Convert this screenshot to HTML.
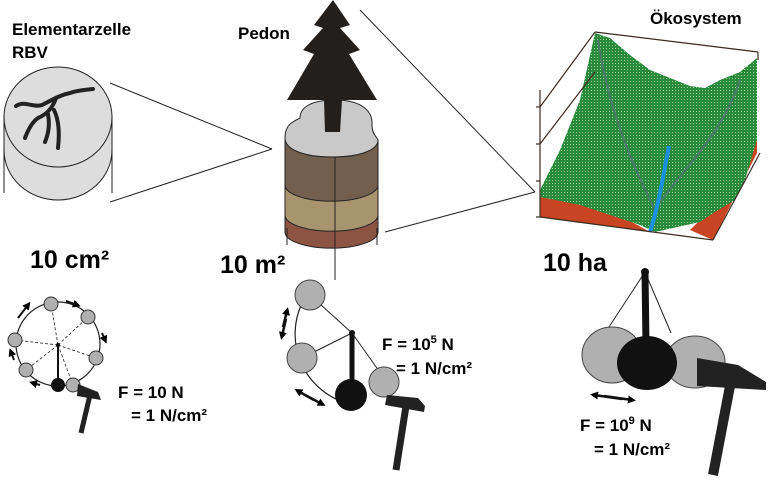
<!DOCTYPE html>
<html><head><meta charset="utf-8"><style>
body{margin:0;background:#fff}
svg{display:block}
text{font-family:"Liberation Sans",Arial,sans-serif;font-weight:bold;fill:#000}
</style></head><body>
<svg width="776" height="484" viewBox="0 0 776 484" xmlns="http://www.w3.org/2000/svg">
<defs>
<pattern id="mesh" width="3" height="3" patternUnits="userSpaceOnUse">
<rect width="3" height="3" fill="#2a8a3c"/><rect width="1" height="1" fill="#9fd0a4"/>
</pattern>
<marker id="ah" markerUnits="userSpaceOnUse" markerWidth="8" markerHeight="8" refX="4" refY="4" orient="auto"><path d="M0,0 L8,4 L0,8z" fill="#000"/></marker>
</defs>
<!-- Labels -->
<text x="12" y="35" font-size="17">Elementarzelle</text>
<text x="12" y="58" font-size="17">RBV</text>
<text x="238" y="39" font-size="17">Pedon</text>
<text x="650" y="24" font-size="17">Ökosystem</text>
<text x="30" y="268" font-size="25">10 cm²</text>
<text x="220" y="273" font-size="25">10 m²</text>
<text x="543" y="271" font-size="25">10 ha</text>

<!-- Left cylinder -->
<path d="M4,117 L4,150 A54,50 0 0 0 112,150 L112,117 Z" fill="#ddd" stroke="#222" stroke-width="1"/>
<ellipse cx="58" cy="117" rx="54" ry="50" fill="#ddd" stroke="#222" stroke-width="1"/>
<line x1="4" y1="115" x2="4" y2="193" stroke="#222"/>
<line x1="112" y1="115" x2="112" y2="193" stroke="#222"/>
<path d="M16,106 C25,100 32,108 42,105 C52,100 60,95 70,93 C78,90 85,90 93,89" fill="none" stroke="#222" stroke-width="4" stroke-linecap="round"/>
<path d="M56,98 C52,110 45,115 38,118 C32,122 28,130 25,138" fill="none" stroke="#222" stroke-width="4" stroke-linecap="round"/>
<path d="M48,114 C50,125 48,135 45,142" fill="none" stroke="#222" stroke-width="4" stroke-linecap="round"/>
<path d="M54,110 C58,118 60,130 58,148" fill="none" stroke="#222" stroke-width="4" stroke-linecap="round"/>
<line x1="110" y1="83" x2="272" y2="149" stroke="#222"/>
<line x1="110" y1="202" x2="272" y2="149" stroke="#222"/>

<!-- Pedon -->
<path d="M285,215 L285,232 A46,16 0 0 0 378,232 L378,215 Z" fill="#8c5442" stroke="#222"/>
<path d="M285,185 L285,215 A46,16 0 0 0 378,215 L378,185 Z" fill="#a99470" stroke="#222"/>
<path d="M285,140 L285,185 A46,16 0 0 0 378,185 L378,140 Z" fill="#735f4e" stroke="#222"/>
<path d="M285,138 C285,125 292,122 300,118 C300,108 310,100 335,100 C360,100 373,110 372,125 C372,135 378,138 378,140 C378,150 360,157 332,157 C305,157 285,150 285,138 Z" fill="#c9c9c9" stroke="#222"/>
<line x1="335" y1="157" x2="335" y2="280" stroke="#222"/>
<line x1="287" y1="228" x2="287" y2="245" stroke="#222"/>
<line x1="377" y1="228" x2="377" y2="245" stroke="#222"/>
<path d="M333,0 L350,25 L340,28 L360,50 L349,54 L377,100 L342,100 L340,132 L325,132 L324,100 L287,100 L314,54 L303,50 L323,28 L314,25 Z" fill="#231f1c"/>
<line x1="360" y1="10" x2="535" y2="192" stroke="#222"/>
<line x1="385" y1="232" x2="535" y2="192" stroke="#222"/>

<!-- Ecosystem -->
<polygon points="540,197 575,200 610,210 650,232 540,217" fill="#c94422"/>
<polygon points="757,60 757,153 713,240 690,230 740,180 750,140" fill="#c94422"/>
<polygon points="595,33 610,38 630,55 650,70 670,78 690,86 705,88 720,80 740,72 757,58 757,140 745,180 735,200 715,212 700,222 655,232 640,225 610,215 580,205 540,197 540,190 560,150 580,100" fill="url(#mesh)"/>
<path d="M598,40 C610,120 640,180 655,210 C680,170 720,140 740,80" fill="none" stroke="#4a7a6a" stroke-width="2"/>
<path d="M669,146 C664,170 660,200 650,232" fill="none" stroke="#1a90e0" stroke-width="4"/>
<g stroke="#3a2a22" stroke-width="1.2" fill="none">
<line x1="595" y1="32" x2="758" y2="52"/>
<line x1="758" y1="52" x2="758" y2="60"/>
<line x1="595" y1="32" x2="540" y2="107"/>
<line x1="540" y1="90" x2="540" y2="217"/>
<line x1="540" y1="217" x2="713" y2="240"/>
<line x1="713" y1="240" x2="760" y2="153"/>
<line x1="536" y1="107" x2="540" y2="107"/><line x1="536" y1="144" x2="540" y2="144"/><line x1="536" y1="181" x2="540" y2="181"/><line x1="536" y1="217" x2="540" y2="217"/>
<line x1="540" y1="144" x2="595" y2="72"/>
</g>

<!-- Bottom left pendulum wheel -->
<circle cx="58" cy="344" r="42" fill="none" stroke="#222" stroke-width="1.2"/>
<g stroke="#222" stroke-width="0.8" stroke-dasharray="3,2">
<line x1="58" y1="345" x2="51" y2="304"/><line x1="58" y1="345" x2="88" y2="317"/><line x1="58" y1="345" x2="96" y2="358"/>
<line x1="58" y1="345" x2="15" y2="340"/><line x1="58" y1="345" x2="26" y2="370"/><line x1="58" y1="345" x2="73" y2="385"/>
</g>
<line x1="58" y1="345" x2="58" y2="383" stroke="#111" stroke-width="2"/>
<circle cx="58" cy="345" r="2" fill="#111"/>
<g fill="#b0b0b0" stroke="#333">
<circle cx="51" cy="304" r="7"/><circle cx="88" cy="317" r="7"/><circle cx="96" cy="358" r="7"/>
<circle cx="15" cy="340" r="7"/><circle cx="26" cy="370" r="7"/><circle cx="73" cy="385" r="7"/>
</g>
<circle cx="58" cy="385" r="7" fill="#111"/>
<g stroke="#111" stroke-width="2" fill="none">
<path d="M18,318 L28,305" marker-end="url(#ah)"/>
<path d="M66,301 L77,305" marker-end="url(#ah)"/>
<path d="M102,333 L105,340" marker-end="url(#ah)"/>
<path d="M40,385 L33,383" marker-end="url(#ah)"/>
<path d="M14,360 L11,352" marker-end="url(#ah)"/>
</g>
<polygon points="78,384 98,392 101,400 77,396" fill="#222"/>
<line x1="90" y1="395" x2="81" y2="433" stroke="#222" stroke-width="5"/>
<text x="118" y="398" font-size="17">F = 10 N</text>
<text x="131" y="421" font-size="17">= 1 N/cm²</text>

<!-- Middle pendulum -->
<path d="M306,296 A72,72 0 0 0 350,404" fill="none" stroke="#222" stroke-width="1.2"/>
<g stroke="#222" stroke-width="1">
<line x1="352" y1="333" x2="310" y2="295"/><line x1="352" y1="333" x2="302" y2="358"/><line x1="352" y1="333" x2="384" y2="378"/>
</g>
<line x1="352" y1="333" x2="352" y2="395" stroke="#111" stroke-width="5"/>
<circle cx="352" cy="333" r="3" fill="#111"/>
<g fill="#b0b0b0" stroke="#444">
<circle cx="310" cy="295" r="15"/><circle cx="302" cy="358" r="15"/><circle cx="384" cy="382" r="15"/>
</g>
<circle cx="351" cy="395" r="16" fill="#111"/>
<g stroke="#111" stroke-width="2.5" fill="none">
<line x1="283" y1="327" x2="287" y2="311" marker-end="url(#ah)"/>
<line x1="286" y1="319" x2="282" y2="336" marker-end="url(#ah)"/>
<line x1="305" y1="395" x2="322" y2="404" marker-end="url(#ah)"/>
<line x1="314" y1="400" x2="298" y2="391" marker-end="url(#ah)"/>
</g>
<polygon points="387,395 418,398 425,406 424,412 385,405" fill="#222"/>
<line x1="406" y1="406" x2="396" y2="470" stroke="#222" stroke-width="7"/>
<text x="382" y="350" font-size="17">F = 10<tspan font-size="11" dy="-7">5</tspan><tspan dy="7"> N</tspan></text>
<text x="396" y="374" font-size="17">= 1 N/cm²</text>

<!-- Right pendulum -->
<line x1="645" y1="272" x2="607" y2="330" stroke="#222"/>
<line x1="645" y1="272" x2="671" y2="333" stroke="#222"/>
<ellipse cx="612" cy="355" rx="30" ry="28" fill="#b0b0b0" stroke="#444"/>
<ellipse cx="695" cy="362" rx="30" ry="26" fill="#b0b0b0" stroke="#444"/>
<line x1="645" y1="272" x2="646" y2="345" stroke="#111" stroke-width="7"/>
<circle cx="645" cy="272" r="4" fill="#111"/>
<ellipse cx="647" cy="363" rx="30" ry="27" fill="#111"/>
<polygon points="697,358 738,365 766,382 766,390 697,386" fill="#222"/>
<line x1="730" y1="386" x2="713" y2="475" stroke="#222" stroke-width="10"/>
<g stroke="#111" stroke-width="2.5"><line x1="604" y1="396" x2="632" y2="400" marker-end="url(#ah)"/><line x1="622" y1="399" x2="594" y2="395" marker-end="url(#ah)"/></g>
<text x="580" y="431" font-size="17">F = 10<tspan font-size="11" dy="-7">9</tspan><tspan dy="7"> N</tspan></text>
<text x="594" y="455" font-size="17">= 1 N/cm²</text>
</svg>
</body></html>
